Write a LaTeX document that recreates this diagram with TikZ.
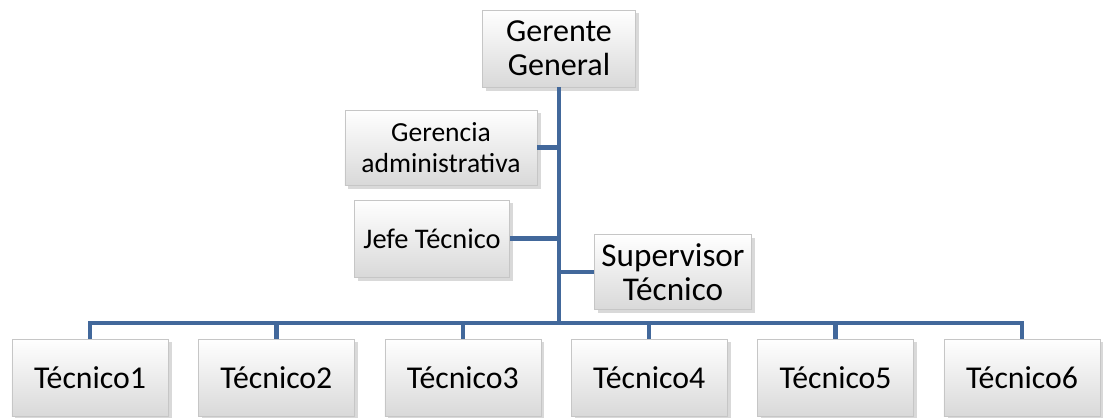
\documentclass[tikz,border=0pt]{standalone}
\usepackage{fontspec}
\setmainfont{Carlito}
\usetikzlibrary{shadows}
\definecolor{linkblue}{RGB}{66,104,155}

\begin{document}
\begin{tikzpicture}[x=0.025cm, y=-0.025cm,
  box/.style={rectangle, draw=gray!45, top color=white, bottom color=gray!30,
    drop shadow={opacity=0.3, shadow xshift=2.5pt, shadow yshift=-2.5pt},
    align=center, inner sep=2pt, text=black},
  link/.style={draw=linkblue, line width=3.2pt, line join=miter}]
  \useasboundingbox (0,0) rectangle (1103,417);
  % Top level
  \node[box, minimum width=3.83cm, minimum height=1.93cm, font=\fontsize{22.8}{24}\selectfont] (gg) at (559,48.5) {Gerente\\General};
  % Staff boxes
  \node[box, minimum width=4.8cm, minimum height=1.88cm, font=\fontsize{19.6}{22}\selectfont] (ga) at (441,147.5) {Gerencia\\administrativa};
  \node[box, minimum width=3.88cm, minimum height=1.93cm, font=\fontsize{20.2}{22}\selectfont] (jt) at (432,238.5) {Jefe Técnico};
  \node[box, minimum width=3.93cm, minimum height=1.88cm, font=\fontsize{23.6}{24}\selectfont] (st) at (673,272) {Supervisor\\Técnico};
  % Technicians
  \foreach \i/\xx in {1/90,2/276.4,3/462.8,4/649.2,5/835.6,6/1022}
    \node[box, minimum width=3.9cm, minimum height=1.93cm, font=\fontsize{22.6}{24}\selectfont] (t\i) at (\xx,377.5) {Técnico\i};
  % Connectors
  \coordinate (bar) at (559,323);
  \draw[link] (gg.south) -- (gg.south |- bar);
  \draw[link] (ga.east) -- (ga.east -| gg.south);
  \draw[link] (jt.east) -- (jt.east -| gg.south);
  \draw[link] (st.west) -- (st.west -| gg.south);
  \draw[link] (t1.north) |- (bar) -| (t6.north);
  \foreach \i in {2,...,5}
    \draw[link] (bar -| t\i.north) -- (t\i.north);
\end{tikzpicture}
\end{document}
